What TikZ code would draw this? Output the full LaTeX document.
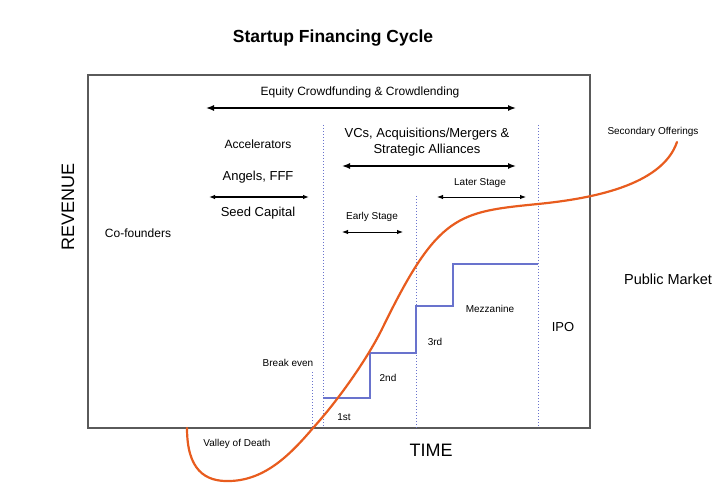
\documentclass[tikz,border=0pt]{standalone}
\usepackage{fontspec}
\setmainfont{Liberation Sans}
\usetikzlibrary{arrows.meta}
\definecolor{frame}{RGB}{90,90,90}
\definecolor{stepblue}{RGB}{105,115,205}
\definecolor{curveorange}{RGB}{232,92,30}
\tikzset{
  lbl/.style={inner sep=0pt, font=\fontsize{#1}{#1}\selectfont},
  bigarrow/.style={line width=1.4pt, {Latex[length=8pt,width=6pt]}-{Latex[length=8pt,width=6pt]}},
  smallarrow/.style={line width=0.9pt, {Latex[length=6pt,width=4.5pt]}-{Latex[length=6pt,width=4.5pt]}},
  stagediv/.style={stepblue, line width=1pt, dash pattern=on 1.4pt off 1.6pt},
}
\begin{document}
\begin{tikzpicture}[x=1pt,y=-1pt]
\useasboundingbox (0,0) rectangle (720,489);
% frame
\draw[frame, line width=1.5pt] (88,75) rectangle (590,428);
% title
\node[lbl=17.5] (title) at (333,38) {\bfseries Startup Financing Cycle};
\node[lbl=18, rotate=90] (rev) at (68,207) {REVENUE};
\node[lbl=18] (time) at (431,450) {TIME};
% dividers
\coordinate (d1t) at (323,125); \coordinate (d1b) at (323,428);
\coordinate (d2t) at (416,196); \coordinate (d2b) at (416,428);
\coordinate (d3t) at (538,125); \coordinate (d3b) at (538,428);
\coordinate (bet) at (312,372); \coordinate (beb) at (312,428);
\draw[stagediv] (d1t) -- (d1b);
\draw[stagediv] (d2t) -- (d2b);
\draw[stagediv] (d3t) -- (d3b);
\draw[stagediv] (bet) -- (beb);
% funding rounds steps
\draw[stepblue, line width=1.1pt] (323,398) -- (370,398) -- (370,353) -- (416,353) -- (416,306) -- (453,306) -- (453,264) -- (538,264);
% labels
\node[lbl=12] (eq) at (360,92) {Equity Crowdfunding \& Crowdlending};
\coordinate (eqL) at (206,108); \coordinate (eqR) at (516,108);
\draw[bigarrow] (eqL) -- (eqR);
\node[lbl=12] (acc) at (258,144) {Accelerators};
\node[lbl=13] (ang) at (258,177) {Angels, FFF};
\node[lbl=13] (seed) at (258,213) {Seed Capital};
\coordinate (seL) at (209,197); \coordinate (seR) at (309,197);
\draw[smallarrow, line width=1.1pt] (seL) -- (seR);
\node[lbl=12] (cof) at (138,233) {Co-founders};
\node[lbl=13, align=center] (vcs) at (427,142) {VCs, Acquisitions/Mergers \&\\[3pt]Strategic Alliances};
\coordinate (vcL) at (342,166); \coordinate (vcR) at (516,166);
\draw[bigarrow] (vcL) -- (vcR);
\node[lbl=10] (later) at (480,183) {Later Stage};
\coordinate (laL) at (437,197); \coordinate (laR) at (526,197);
\draw[smallarrow] (laL) -- (laR);
\node[lbl=10] (early) at (372,217) {Early Stage};
\coordinate (eaL) at (342,232); \coordinate (eaR) at (403,232);
\draw[smallarrow] (eaL) -- (eaR);
\node[lbl=10] (sec) at (653,132) {Secondary Offerings};
\node[lbl=14.5] (pub) at (668,279) {Public Market};
\node[lbl=13] (ipo) at (563,327) {IPO};
\node[lbl=10] (mez) at (490,309) {Mezzanine};
\node[lbl=10] (r3) at (435,342) {3rd};
\node[lbl=10] (r2) at (388,378) {2nd};
\node[lbl=10] (r1) at (344,417) {1st};
\node[lbl=10] (be) at (288,363) {Break even};
\node[lbl=10] (vod) at (237,444) {Valley of Death};
% revenue curve
\coordinate (c0) at (187,428);
\coordinate (c1) at (230,481);
\coordinate (c2) at (313,428);
\coordinate (c3) at (383,327);
\coordinate (c4) at (538,204);
\coordinate (c5) at (677,142);
\draw[curveorange, line width=2.2pt, line cap=round]
  (c0) .. controls (187,470) and (205,482) .. (c1)
       .. controls (265,480) and (290,455) .. (c2)
       .. controls (338,400.5) and (368,358) .. (c3)
       .. controls (438,214) and (458,212) .. (c4)
       .. controls (590,198.8) and (662,186) .. (c5);
\end{tikzpicture}
\end{document}
